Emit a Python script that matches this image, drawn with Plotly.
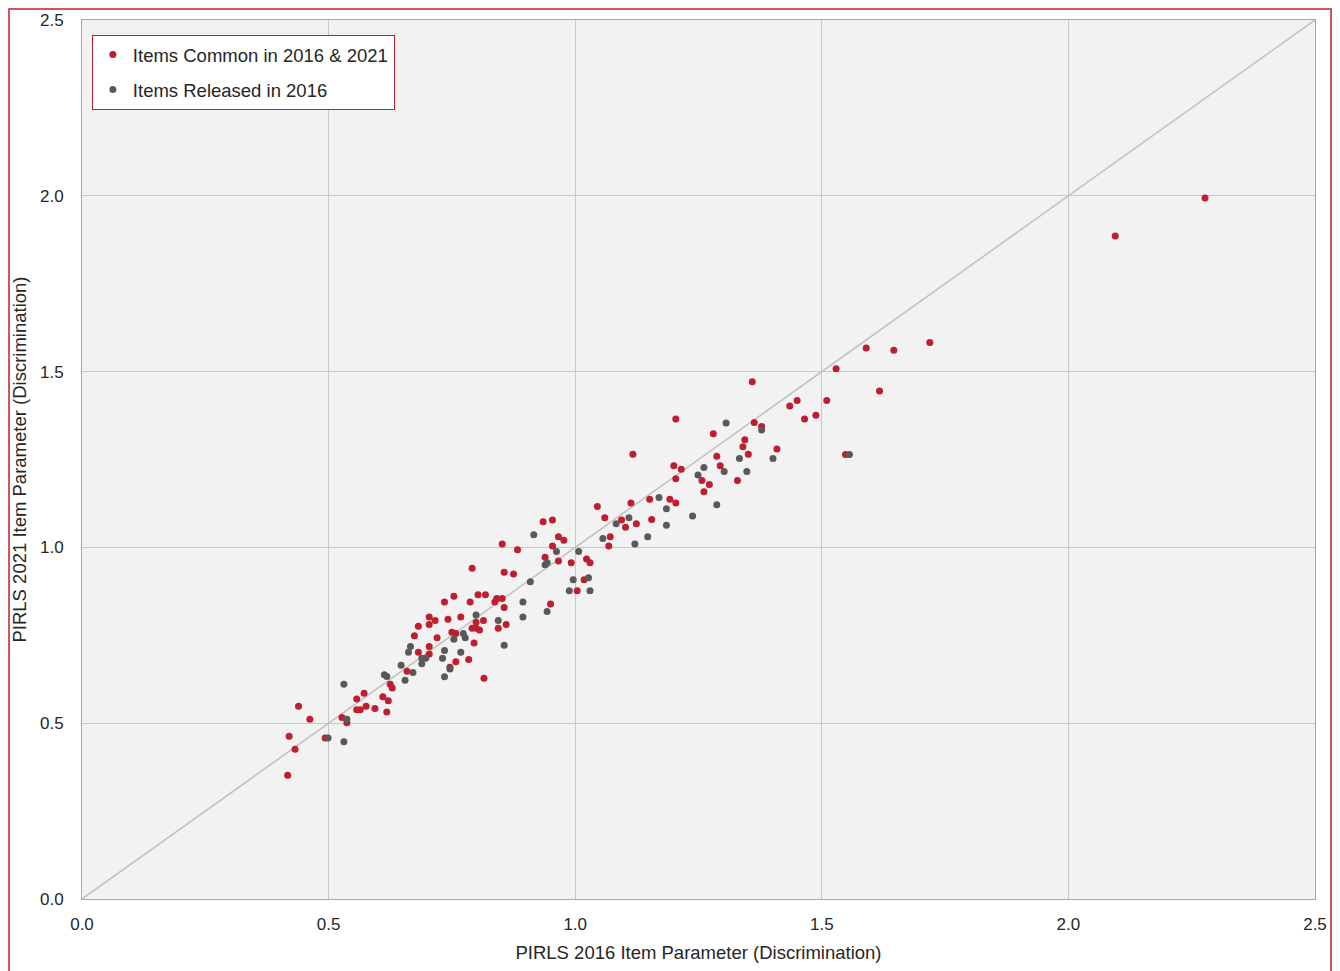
import plotly.graph_objects as go

# Items Common in 2016 & 2021 (red)
common_2016 = [0.439, 0.462, 0.420, 0.432, 0.417, 0.493, 0.527, 0.537, 0.557, 0.572,
               0.557, 0.564, 0.576, 0.594, 0.610, 0.621, 0.618, 0.625, 0.629, 0.659,
               0.682, 0.704, 0.704, 0.791, 0.856, 0.875, 0.754, 0.735, 0.803, 0.818,
               0.787, 0.841, 0.852, 0.837, 0.856, 0.704, 0.716, 0.704, 0.742, 0.768,
               0.799, 0.814, 0.860, 0.844, 0.682, 0.791, 0.799, 0.806, 0.750, 0.758,
               0.674, 0.720, 0.795, 0.784, 0.758, 0.746, 0.815, 1.045, 1.113, 1.060,
               1.094, 1.124, 1.102, 0.935, 0.954, 0.966, 0.977, 0.954, 0.852, 0.883,
               1.071, 1.068, 0.939, 0.966, 0.992, 1.023, 1.030, 1.018, 1.004, 0.950,
               1.204, 1.280, 1.117, 1.344, 1.340, 1.351, 1.287, 1.294, 1.200, 1.215,
               1.204, 1.257, 1.272, 1.261, 1.329, 1.151, 1.192, 1.204, 1.155, 1.529,
               1.359, 1.435, 1.450, 1.510, 1.465, 1.488, 1.363, 1.378, 1.409, 1.548,
               1.590, 1.646, 1.719, 1.617, 2.095, 2.277]
common_2021 = [0.548, 0.511, 0.463, 0.426, 0.352, 0.458, 0.516, 0.501, 0.569, 0.585,
               0.538, 0.538, 0.548, 0.542, 0.575, 0.564, 0.532, 0.611, 0.600, 0.648,
               0.702, 0.718, 0.697, 0.941, 0.929, 0.924, 0.861, 0.845, 0.865, 0.865,
               0.845, 0.855, 0.855, 0.845, 0.829, 0.802, 0.792, 0.781, 0.796, 0.802,
               0.787, 0.792, 0.781, 0.770, 0.776, 0.770, 0.770, 0.765, 0.759, 0.755,
               0.749, 0.743, 0.728, 0.681, 0.675, 0.659, 0.628, 1.116, 1.126, 1.084,
               1.078, 1.067, 1.057, 1.073, 1.078, 1.030, 1.020, 1.004, 1.010, 0.993,
               1.030, 1.004, 0.972, 0.961, 0.956, 0.967, 0.956, 0.908, 0.877, 0.839,
               1.365, 1.323, 1.265, 1.306, 1.286, 1.265, 1.259, 1.232, 1.232, 1.222,
               1.195, 1.190, 1.179, 1.158, 1.190, 1.137, 1.137, 1.126, 1.079, 1.508,
               1.471, 1.402, 1.418, 1.418, 1.365, 1.376, 1.355, 1.344, 1.280, 1.264,
               1.567, 1.561, 1.583, 1.445, 1.886, 1.994]

# Items Released in 2016 (gray)
released_2016 = [0.499, 0.531, 0.531, 0.537, 0.613, 0.618, 0.647, 0.671, 0.655, 0.666,
                 0.662, 0.689, 0.697, 0.689, 0.909, 0.894, 0.894, 0.799, 0.844, 0.773,
                 0.777, 0.754, 0.856, 0.735, 0.731, 0.768, 0.746, 0.735, 1.109, 1.083,
                 0.916, 0.962, 1.007, 1.056, 1.121, 0.943, 0.939, 0.996, 1.027, 0.988,
                 1.030, 0.943, 1.306, 1.333, 1.302, 1.348, 1.249, 1.261, 1.170, 1.185,
                 1.287, 1.238, 1.185, 1.147, 1.378, 1.401, 1.556]
released_2021 = [0.458, 0.611, 0.447, 0.511, 0.638, 0.633, 0.665, 0.644, 0.622, 0.718,
                 0.702, 0.685, 0.685, 0.669, 0.902, 0.845, 0.802, 0.808, 0.792, 0.755,
                 0.743, 0.739, 0.722, 0.707, 0.685, 0.702, 0.654, 0.632, 1.084, 1.067,
                 1.036, 0.988, 0.988, 1.025, 1.010, 0.956, 0.951, 0.908, 0.914, 0.877,
                 0.877, 0.818, 1.354, 1.253, 1.216, 1.216, 1.206, 1.227, 1.142, 1.110,
                 1.121, 1.089, 1.063, 1.030, 1.334, 1.253, 1.264]

tick_vals = [0.0, 0.5, 1.0, 1.5, 2.0, 2.5]
axis_range = [0.0, 2.5]

RED = "#be1e2d"
GRAY = "#595959"
FONT = "Liberation Sans, Arial, sans-serif"

fig = go.Figure()
fig.add_trace(go.Scatter(x=axis_range, y=axis_range, mode="lines",
                         line=dict(color="#bfbfbf", width=1.5),
                         showlegend=False, hoverinfo="skip"))
fig.add_trace(go.Scatter(x=common_2016, y=common_2021, mode="markers",
                         name="Items Common in 2016 & 2021", legendgroup="a",
                         marker=dict(color=RED, size=7)))
fig.add_trace(go.Scatter(x=released_2016, y=released_2021, mode="markers",
                         name="Items Released in 2016", legendgroup="b",
                         marker=dict(color=GRAY, size=7)))

axis_common = dict(range=axis_range, tickvals=tick_vals, tickformat=".1f",
                   showgrid=True, gridcolor="#c8c8c8", gridwidth=1,
                   zeroline=False, showline=True, mirror=True,
                   linecolor="#a6a6a6", linewidth=1, automargin=False,
                   tickfont=dict(size=17, color="#262626", family=FONT),
                   ticks="", fixedrange=True)

fig.update_layout(
    width=1340, height=971,
    margin=dict(l=74, r=33, t=12, b=80),
    paper_bgcolor="white", plot_bgcolor="#f2f2f2",
    font=dict(family=FONT, size=17, color="#262626"),
    xaxis=dict(axis_common,
               title=dict(text="PIRLS 2016 Item Parameter (Discrimination)",
                          font=dict(size=18.5), standoff=12),
               ticklabelstandoff=10),
    yaxis=dict(axis_common,
               title=dict(text="PIRLS 2021 Item Parameter (Discrimination)",
                          font=dict(size=18.5), standoff=8),
               ticklabelstandoff=14),
    legend=dict(x=0.008, y=0.983, xanchor="left", yanchor="top",
                bgcolor="white", bordercolor=RED, borderwidth=1,
                font=dict(size=18.5, color="#262626", family=FONT),
                tracegroupgap=8),
    shapes=[dict(type="rect", xref="paper", yref="paper",
                 x0=-0.0592, x1=1.013, y0=-0.09, y1=1.0125,
                 line=dict(color=RED, width=1.5), fillcolor="rgba(0,0,0,0)",
                 layer="below")],
    showlegend=True,
)

fig.write_html("out.html")
